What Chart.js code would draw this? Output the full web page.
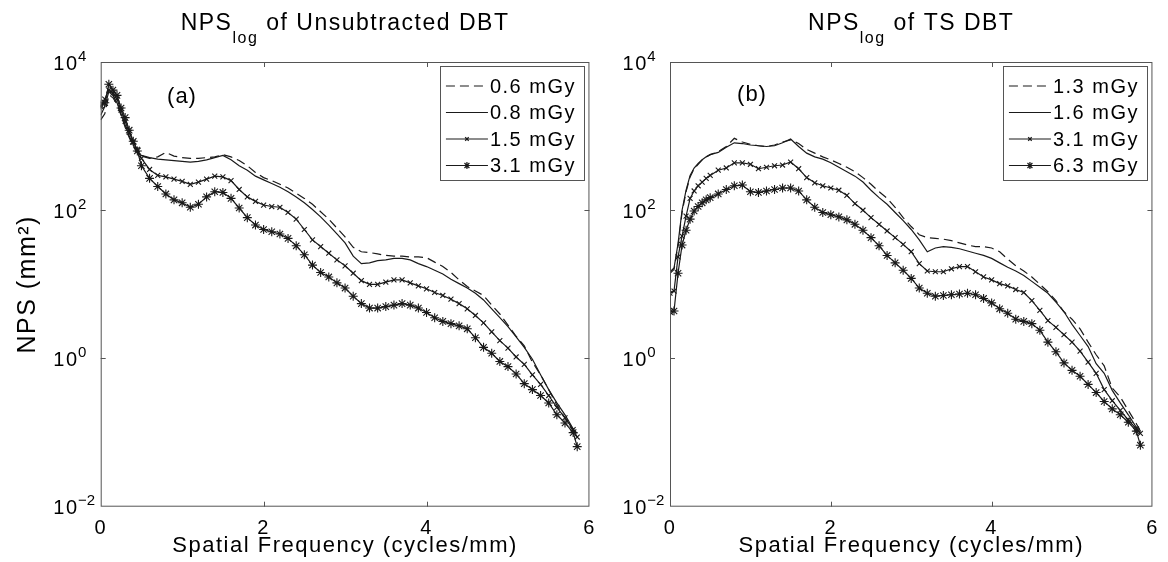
<!DOCTYPE html>
<html>
<head>
<meta charset="utf-8">
<script src="https://cdn.jsdelivr.net/npm/chart.js@4.4.1/dist/chart.umd.min.js"></script>
<style>
  html, body { margin: 0; padding: 0; background: #fff; }
  #wrap { position: relative; width: 1168px; height: 562px; }
  canvas { position: absolute; top: 0; }
</style>
</head>
<body>
<div id="wrap">
  <canvas id="chartA" width="605" height="562" style="left:0"></canvas>
  <canvas id="chartB" width="563" height="562" style="left:605px"></canvas>
</div>
<script>
// spatial frequency (cycles/mm)
const freq = [0, 0.05, 0.1, 0.15, 0.2, 0.25, 0.3, 0.35, 0.4, 0.45, 0.5,
  0.6, 0.7, 0.8, 0.9, 1.0, 1.1, 1.2, 1.3, 1.4, 1.5,
  1.6, 1.7, 1.8, 1.9, 2.0, 2.1, 2.2, 2.3, 2.4, 2.5,
  2.6, 2.7, 2.8, 2.9, 3.0, 3.1, 3.2, 3.3, 3.4, 3.5,
  3.6, 3.7, 3.8, 3.9, 4.0, 4.1, 4.2, 4.3, 4.4, 4.5,
  4.6, 4.7, 4.8, 4.9, 5.0, 5.1, 5.2, 5.3, 5.4, 5.5,
  5.6, 5.7, 5.8, 5.85];

const doseA = ["0.6 mGy", "0.8 mGy", "1.5 mGy", "3.1 mGy"];
const doseB = ["1.3 mGy", "1.6 mGy", "3.1 mGy", "6.3 mGy"];

// log10 of NPS (mm^2), unsubtracted DBT
const unsub06 = [3.22, 3.30, 3.55, 3.52, 3.43, 3.28, 3.12, 2.98, 2.86, 2.77, 2.73,
  2.70, 2.72, 2.78, 2.73, 2.71, 2.70, 2.70, 2.71, 2.72, 2.75,
  2.72, 2.67, 2.60, 2.51, 2.44, 2.40, 2.35, 2.30, 2.23, 2.16,
  2.08, 1.98, 1.88, 1.76, 1.64, 1.50, 1.44, 1.43, 1.41, 1.39,
  1.38, 1.38, 1.37, 1.37, 1.36, 1.30, 1.24, 1.16, 1.06, 0.97,
  0.91, 0.85, 0.72, 0.60, 0.45, 0.30, 0.17, -0.05, -0.22, -0.42,
  -0.63, -0.80, -0.98, -1.06];
const unsub08 = [3.28, 3.40, 3.60, 3.55, 3.45, 3.30, 3.15, 3.00, 2.88, 2.78, 2.74,
  2.71, 2.69, 2.68, 2.67, 2.66, 2.65, 2.66, 2.68, 2.71, 2.74,
  2.68, 2.60, 2.54, 2.46, 2.41, 2.36, 2.31, 2.25, 2.18, 2.10,
  2.01, 1.91, 1.80, 1.68, 1.56, 1.38, 1.28, 1.29, 1.32, 1.33,
  1.35, 1.35, 1.33, 1.28, 1.24, 1.19, 1.14, 1.07, 1.01, 0.95,
  0.88, 0.79, 0.67, 0.55, 0.43, 0.29, 0.15, -0.01, -0.22, -0.42,
  -0.60, -0.76, -0.95, -1.01];
const unsub15 = [3.40, 3.50, 3.62, 3.58, 3.50, 3.35, 3.20, 3.05, 2.92, 2.82, 2.70,
  2.55, 2.47, 2.45, 2.42, 2.39, 2.35, 2.38, 2.42, 2.46, 2.45,
  2.40, 2.28, 2.18, 2.12, 2.07, 2.05, 2.04, 1.97, 1.88, 1.74,
  1.60, 1.51, 1.42, 1.33, 1.25, 1.15, 1.05, 1.00, 1.00, 1.03,
  1.06, 1.06, 1.02, 0.98, 0.94, 0.89, 0.85, 0.80, 0.74, 0.67,
  0.58, 0.48, 0.36, 0.24, 0.14, 0.02, -0.08, -0.22, -0.35, -0.50,
  -0.66, -0.80, -0.96, -1.06];
const unsub31 = [3.42, 3.45, 3.70, 3.62, 3.55, 3.38, 3.25, 3.08, 2.93, 2.80, 2.60,
  2.43, 2.32, 2.22, 2.14, 2.10, 2.04, 2.08, 2.18, 2.25, 2.24,
  2.16, 2.03, 1.90, 1.80, 1.74, 1.71, 1.68, 1.62, 1.52, 1.40,
  1.26, 1.16, 1.10, 1.02, 0.95, 0.84, 0.74, 0.68, 0.68, 0.70,
  0.72, 0.74, 0.72, 0.68, 0.62, 0.55, 0.50, 0.47, 0.44, 0.40,
  0.28, 0.15, 0.07, -0.04, -0.11, -0.21, -0.34, -0.42, -0.50, -0.60,
  -0.76, -0.87, -1.00, -1.19];

// log10 of NPS (mm^2), TS DBT
const ts13 = [1.15, 1.20, 1.52, 1.97, 2.25, 2.45, 2.56, 2.62, 2.68, 2.72, 2.75,
  2.79, 2.86, 2.97, 2.92, 2.89, 2.87, 2.86, 2.88, 2.92, 2.95,
  2.90, 2.82, 2.77, 2.72, 2.68, 2.63, 2.58, 2.52, 2.44, 2.35,
  2.25, 2.16, 2.04, 1.90, 1.78, 1.67, 1.63, 1.62, 1.61, 1.59,
  1.56, 1.53, 1.51, 1.51, 1.49, 1.44, 1.34, 1.25, 1.18, 1.10,
  1.00, 0.90, 0.78, 0.63, 0.53, 0.40, 0.22, 0.05, -0.10, -0.40,
  -0.52, -0.70, -0.88, -0.98];
const ts16 = [1.17, 1.22, 1.55, 2.00, 2.27, 2.47, 2.57, 2.63, 2.68, 2.72, 2.75,
  2.78, 2.85, 2.91, 2.90, 2.88, 2.87, 2.86, 2.87, 2.91, 2.96,
  2.86, 2.77, 2.72, 2.69, 2.64, 2.58, 2.52, 2.46, 2.38, 2.27,
  2.17, 2.08, 1.97, 1.86, 1.74, 1.60, 1.44, 1.49, 1.51, 1.50,
  1.48, 1.45, 1.42, 1.39, 1.35, 1.29, 1.23, 1.18, 1.12, 1.04,
  0.96, 0.88, 0.76, 0.63, 0.46, 0.31, 0.16, -0.07, -0.20, -0.43,
  -0.60, -0.76, -0.93, -1.01];
const ts31 = [0.88, 0.91, 1.37, 1.65, 1.92, 2.16, 2.26, 2.33, 2.38, 2.43, 2.47,
  2.54, 2.57, 2.64, 2.64, 2.62, 2.56, 2.58, 2.60, 2.61, 2.65,
  2.56, 2.44, 2.37, 2.33, 2.30, 2.27, 2.20, 2.09, 2.00, 1.90,
  1.81, 1.72, 1.63, 1.54, 1.44, 1.28, 1.18, 1.17, 1.17, 1.21,
  1.24, 1.24, 1.17, 1.10, 1.06, 1.01, 0.98, 0.93, 0.89, 0.78,
  0.65, 0.51, 0.42, 0.32, 0.22, 0.10, -0.05, -0.20, -0.42, -0.57,
  -0.70, -0.83, -0.95, -1.01];
const ts63 = [0.63, 0.64, 1.15, 1.53, 1.73, 1.88, 1.99, 2.05, 2.10, 2.14, 2.17,
  2.22, 2.28, 2.33, 2.34, 2.25, 2.24, 2.26, 2.28, 2.30, 2.30,
  2.26, 2.14, 2.04, 1.97, 1.94, 1.91, 1.87, 1.81, 1.73, 1.63,
  1.52, 1.39, 1.29, 1.19, 1.08, 0.95, 0.88, 0.84, 0.85, 0.86,
  0.87, 0.88, 0.86, 0.81, 0.75, 0.67, 0.61, 0.53, 0.50, 0.47,
  0.38, 0.22, 0.09, -0.06, -0.16, -0.24, -0.35, -0.46, -0.58, -0.68,
  -0.76, -0.86, -0.98, -1.17];

const xTicks = [0, 2, 4, 6];
const yTicks = [-2, 0, 2, 4];   // exponents of 10

const FONT = '"Liberation Sans", Arial, Helvetica, sans-serif';
const INK = "#000";
const AXIS = "#555";

Chart.defaults.font.family = FONT;
Chart.defaults.color = INK;

function makeDatasets(labels, series) {
  const styles = [
    { borderDash: [9, 5], pointRadius: 0 },
    { borderDash: [], pointRadius: 0 },
    { pointStyle: "crossRot", pointRadius: 3.5 },
    { pointStyle: "star", pointRadius: 4.5 }
  ];
  return series.map((vals, i) => Object.assign({
    label: labels[i],
    data: vals.map((v, k) => ({ x: freq[k], y: v })),
    borderColor: "#1a1a1a",
    backgroundColor: "#1a1a1a",
    borderWidth: 1.2,
    pointBorderColor: "#1a1a1a",
    pointBorderWidth: 1.1,
    pointHoverRadius: 0,
    pointStyle: "circle",
    tension: 0
  }, styles[i]));
}

function line(ctx, x1, y1, x2, y2) {
  ctx.beginPath();
  ctx.moveTo(x1, y1);
  ctx.lineTo(x2, y2);
  ctx.stroke();
}

const panelPlugin = {
  id: "panel",
  beforeDraw(chart) {
    chart.ctx.letterSpacing = "1.5px";
  },
  beforeDatasetsDraw(chart) {
    chart.ctx.letterSpacing = "0px";
  },
  afterDraw(chart, args, opts) {
    const ctx = chart.ctx;
    const area = chart.chartArea;
    const xs = chart.scales.x;
    const ys = chart.scales.y;
    ctx.save();

    // axes box and inward ticks
    ctx.strokeStyle = AXIS;
    ctx.lineWidth = 1;
    ctx.strokeRect(area.left + 0.5, area.top + 0.5, area.width - 1, area.height - 1);
    xTicks.slice(1, -1).forEach(v => {
      const px = Math.round(xs.getPixelForValue(v)) + 0.5;
      line(ctx, px, area.bottom, px, area.bottom - 5);
      line(ctx, px, area.top, px, area.top + 5);
    });
    yTicks.slice(1, -1).forEach(v => {
      const py = Math.round(ys.getPixelForValue(v)) + 0.5;
      line(ctx, area.left, py, area.left + 5, py);
      line(ctx, area.right, py, area.right - 5, py);
    });

    // exponents of the y tick labels
    ctx.fillStyle = INK;
    ctx.letterSpacing = "0px";
    ctx.font = "15px " + FONT;
    ctx.textAlign = "left";
    ctx.textBaseline = "alphabetic";
    yTicks.forEach(v => {
      const py = ys.getPixelForValue(v);
      ctx.fillText(String(v).replace("-", "\u2212"), area.left - 22.7, py - 1.3);
    });

    // title with subscript
    const t = opts.title;
    ctx.letterSpacing = "1.5px";
    ctx.font = "23px " + FONT;
    const wMain = ctx.measureText(t.main).width;
    const wRest = ctx.measureText(t.rest).width;
    ctx.font = "16px " + FONT;
    const wSub = ctx.measureText(t.sub).width;
    let tx = (area.left + area.right) / 2 - (wMain + wSub + wRest) / 2;
    ctx.font = "23px " + FONT;
    ctx.fillText(t.main, tx, 30);
    ctx.font = "16px " + FONT;
    ctx.fillText(t.sub, tx + wMain, 43);
    ctx.font = "23px " + FONT;
    ctx.fillText(t.rest, tx + wMain + wSub, 30);

    // panel tag
    ctx.letterSpacing = "1px";
    ctx.font = "22px " + FONT;
    ctx.textAlign = "center";
    ctx.textBaseline = "middle";
    ctx.fillText(opts.tag, opts.tagX, opts.tagY);

    // legend
    const lg = opts.legend;
    const lx = area.right - lg.gap - lg.width;
    ctx.fillStyle = "#fff";
    ctx.fillRect(lx, lg.top, lg.width, lg.height);
    ctx.strokeStyle = AXIS;
    ctx.strokeRect(Math.round(lx) + 0.5, lg.top + 0.5, lg.width, lg.height);
    ctx.fillStyle = INK;
    ctx.strokeStyle = "#1a1a1a";
    ctx.lineWidth = 1.2;
    ctx.font = "20px " + FONT;
    ctx.letterSpacing = "1.5px";
    ctx.textAlign = "left";
    ctx.textBaseline = "middle";
    chart.data.datasets.forEach((ds, i) => {
      const cy = lg.top + lg.first + i * lg.step;
      const x1 = lx + 6, x2 = lx + 48;
      ctx.setLineDash(ds.borderDash || []);
      line(ctx, x1, cy, x2, cy);
      ctx.setLineDash([]);
      if (ds.pointRadius > 0) {
        Chart.helpers.drawPoint(ctx, {
          pointStyle: ds.pointStyle, radius: ds.pointRadius - 1, borderWidth: 1.1, rotation: 0
        }, (x1 + x2) / 2, cy);
      }
      ctx.fillText(ds.label, lx + 50, cy + 1);
    });
    ctx.restore();
  }
};

function makeChart(id, labels, series, panel, yTitle, yWidth, rightPad) {
  return new Chart(document.getElementById(id), {
    type: "line",
    data: { datasets: makeDatasets(labels, series) },
    options: {
      responsive: false,
      animation: false,
      devicePixelRatio: 1,
      events: [],
      layout: { padding: { top: 62, right: rightPad, left: 0, bottom: 0 } },
      plugins: {
        legend: { display: false },
        tooltip: { enabled: false },
        panel: panel
      },
      scales: {
        x: {
          type: "linear",
          min: 0,
          max: 6,
          afterBuildTicks: s => { s.ticks = xTicks.map(v => ({ value: v })); },
          grid: { display: false, drawTicks: false },
          border: { display: false },
          ticks: { color: INK, font: { size: 20 }, padding: 10, maxRotation: 0 },
          title: {
            display: true,
            text: "Spatial Frequency (cycles/mm)",
            color: INK,
            font: { size: 22 },
            padding: { top: 0, bottom: 3 }
          },
          afterFit: s => { s.height = 55.3; }
        },
        y: {
          type: "linear",
          min: -2,
          max: 4,
          afterBuildTicks: s => { s.ticks = yTicks.map(v => ({ value: v })); },
          grid: { display: false, drawTicks: false },
          border: { display: false },
          ticks: {
            color: INK,
            font: { size: 20 },
            padding: 22.2,
            labelOffset: 2,
            callback: () => "10"
          },
          title: yTitle,
          afterFit: s => { s.width = yWidth; }
        }
      }
    },
    plugins: [panelPlugin]
  });
}

const legendBox = { width: 144, height: 114, top: 66, gap: 5.5, first: 20, step: 26.5 };

makeChart("chartA", doseA, [unsub06, unsub08, unsub15, unsub31], {
  title: { main: "NPS", sub: "log", rest: " of Unsubtracted DBT" },
  tag: "(a)", tagX: 182, tagY: 97,
  legend: legendBox
}, {
  display: true,
  text: "NPS (mm\u00B2)",
  color: INK,
  font: { size: 25 },
  padding: { top: 13, bottom: 0 }
}, 100.7, 14.3);

makeChart("chartB", doseB, [ts13, ts16, ts31, ts63], {
  title: { main: "NPS", sub: "log", rest: " of TS DBT" },
  tag: "(b)", tagX: 147, tagY: 95,
  legend: legendBox
}, { display: false }, 65, 7.5);
</script>
</body>
</html>
